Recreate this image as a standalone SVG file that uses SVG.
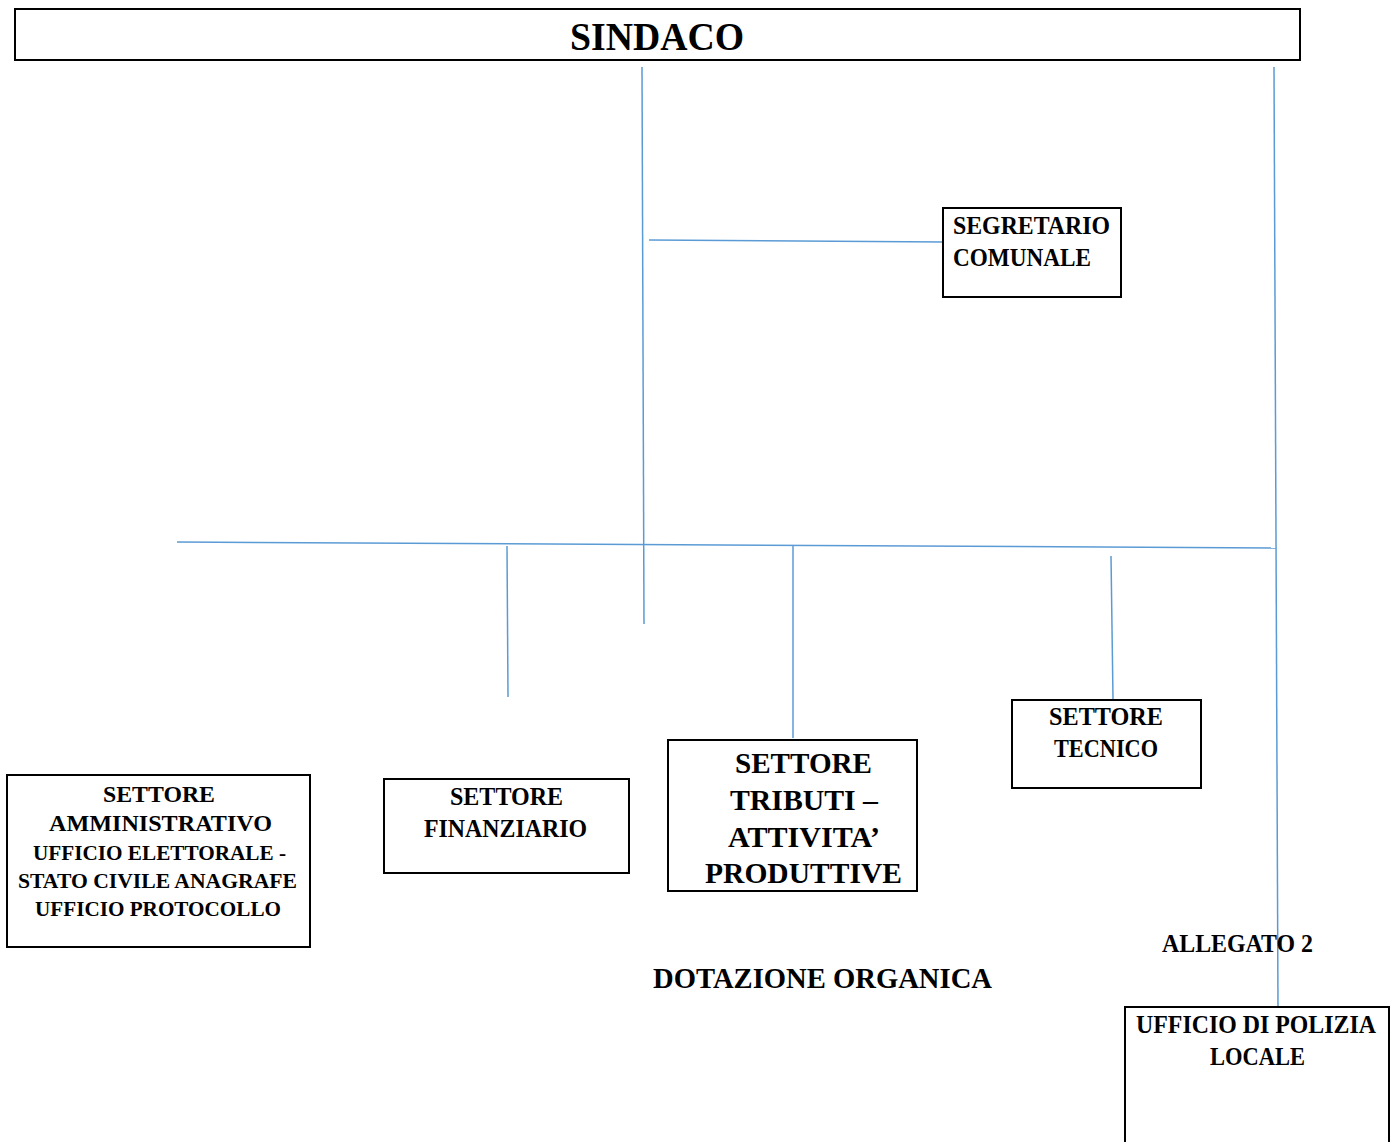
<svg xmlns="http://www.w3.org/2000/svg" width="1398" height="1142" viewBox="0 0 1398 1142">
<style>
.box{fill:#fff;stroke:#000;stroke-width:2}
.t{font-family:"Liberation Serif","Times New Roman",serif;font-weight:bold;fill:#000}
.ln{stroke:#5b9bd5;stroke-width:1.5;fill:none}
</style>
<rect width="1398" height="1142" fill="#fff"/>
<g id="connectors">
<line class="ln" x1="642" y1="67" x2="644" y2="624"/>
<line class="ln" x1="1274" y1="67" x2="1278" y2="1007"/>
<line class="ln" x1="649" y1="240" x2="943" y2="242"/>
<line class="ln" x1="177" y1="542" x2="1276" y2="548"/>
<line class="ln" x1="507" y1="546" x2="508" y2="697"/>
<line class="ln" x1="793" y1="546" x2="793" y2="738"/>
<line class="ln" x1="1111" y1="556" x2="1113" y2="699"/>
</g>
<g id="sindaco">
<rect class="box" x="15" y="9" width="1285" height="51"/>
<text class="t" x="570" y="50" font-size="40" textLength="174" lengthAdjust="spacingAndGlyphs">SINDACO</text>
</g>
<g id="segretario">
<rect class="box" x="943" y="208" width="178" height="89"/>
<text class="t" x="953" y="234" font-size="25" textLength="157" lengthAdjust="spacingAndGlyphs">SEGRETARIO</text>
<text class="t" x="953" y="266" font-size="25" textLength="138" lengthAdjust="spacingAndGlyphs">COMUNALE</text>
</g>
<g id="amministrativo">
<rect class="box" x="7" y="775" width="303" height="172"/>
<text class="t" x="103" y="802" font-size="24" textLength="112" lengthAdjust="spacingAndGlyphs">SETTORE</text>
<text class="t" x="49" y="831" font-size="24" textLength="223" lengthAdjust="spacingAndGlyphs">AMMINISTRATIVO</text>
<text class="t" x="33" y="860" font-size="21.5" textLength="253" lengthAdjust="spacingAndGlyphs">UFFICIO ELETTORALE -</text>
<text class="t" x="18" y="888" font-size="21.5" textLength="279" lengthAdjust="spacingAndGlyphs">STATO CIVILE ANAGRAFE</text>
<text class="t" x="35" y="916" font-size="21.5" textLength="246" lengthAdjust="spacingAndGlyphs">UFFICIO PROTOCOLLO</text>
</g>
<g id="finanziario">
<rect class="box" x="384" y="779" width="245" height="94"/>
<text class="t" x="450" y="805" font-size="24.5" textLength="113" lengthAdjust="spacingAndGlyphs">SETTORE</text>
<text class="t" x="424" y="837" font-size="24.5" textLength="163" lengthAdjust="spacingAndGlyphs">FINANZIARIO</text>
</g>
<g id="tributi">
<rect class="box" x="668" y="740" width="249" height="151"/>
<text class="t" x="735" y="773" font-size="30" textLength="137" lengthAdjust="spacingAndGlyphs">SETTORE</text>
<text class="t" x="730" y="810" font-size="30" textLength="148" lengthAdjust="spacingAndGlyphs">TRIBUTI –</text>
<text class="t" x="728" y="847" font-size="30" textLength="152" lengthAdjust="spacingAndGlyphs">ATTIVITA’</text>
<text class="t" x="705" y="883" font-size="30" textLength="197" lengthAdjust="spacingAndGlyphs">PRODUTTIVE</text>
</g>
<g id="tecnico">
<rect class="box" x="1012" y="700" width="189" height="88"/>
<text class="t" x="1049" y="725" font-size="24.5" textLength="114" lengthAdjust="spacingAndGlyphs">SETTORE</text>
<text class="t" x="1054" y="757" font-size="24.5" textLength="104" lengthAdjust="spacingAndGlyphs">TECNICO</text>
</g>
<g id="polizia">
<rect class="box" x="1125" y="1007" width="264" height="140"/>
<text class="t" x="1136" y="1033" font-size="25" textLength="240" lengthAdjust="spacingAndGlyphs">UFFICIO DI POLIZIA</text>
<text class="t" x="1210" y="1065" font-size="25" textLength="95" lengthAdjust="spacingAndGlyphs">LOCALE</text>
</g>
<text class="t" x="1162" y="952" font-size="25" textLength="151" lengthAdjust="spacingAndGlyphs">ALLEGATO 2</text>
<text class="t" x="653" y="988" font-size="29" textLength="339" lengthAdjust="spacingAndGlyphs">DOTAZIONE ORGANICA</text>
</svg>
